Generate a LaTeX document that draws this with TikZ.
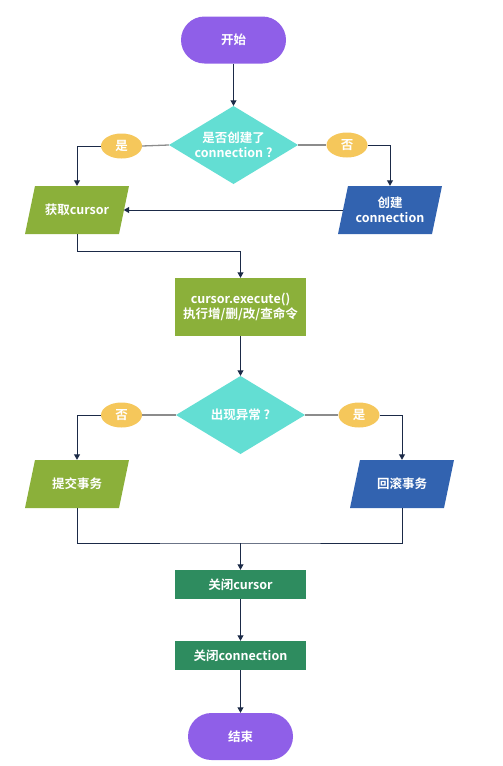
\documentclass[tikz,border=0pt]{standalone}
\usepackage{fontspec}
\setmainfont{Noto Sans CJK SC}[BoldFont={* Bold}]
\usetikzlibrary{arrows.meta,shapes.geometric}
\definecolor{cpurple}{HTML}{8F5FE8}
\definecolor{cteal}{HTML}{63DED3}
\definecolor{cgreen}{HTML}{8BB03A}
\definecolor{cblue}{HTML}{3263B0}
\definecolor{cdkgreen}{HTML}{2E8C5F}
\definecolor{cyellow}{HTML}{F5C75B}
\definecolor{cline}{HTML}{1B2A47}
\definecolor{cgrey}{HTML}{8C8C8C}
\tikzset{
  base/.style={text=white,font=\bfseries\fontsize{12.5}{15}\selectfont,inner sep=0pt,align=center},
  term/.style={base,rectangle,rounded corners=23.5pt,fill=cpurple,minimum width=105pt,minimum height=47pt},
  procbox/.style={base,rectangle,fill=#1,minimum width=131pt},
  decide/.style={base,rectangle,minimum width=129pt,minimum height=78pt,
    path picture={\fill[cteal] (path picture bounding box.west) -- (path picture bounding box.north) -- (path picture bounding box.east) -- (path picture bounding box.south) -- cycle;}},
  iobox/.style={base,rectangle,minimum width=104pt,minimum height=48pt,
    path picture={\fill[#1] ([xshift=10pt]path picture bounding box.north west) -- (path picture bounding box.north east) -- ([xshift=-10pt]path picture bounding box.south east) -- (path picture bounding box.south west) -- cycle;}},
  tag/.style={base,ellipse,fill=cyellow,minimum width=41pt,minimum height=25pt},
  arr/.style={draw=cline,line width=0.9pt,-{Triangle[width=6pt,length=5.5pt]}},
  plain/.style={draw=cline,line width=0.9pt},
  greyline/.style={draw=cgrey,line width=1.3pt},
}
\begin{document}
\begin{tikzpicture}[x=1pt,y=-1pt]
\useasboundingbox (0,0) rectangle (503,766);
\node[term] (start) at (233.5,40) {开始};
\node[decide] (d1) at (233.5,145) {是否创建了\\connection ?};
\node[tag] (yes1) at (121.5,146) {是};
\node[tag] (no1) at (347,145) {否};
\node[iobox=cgreen] (get) at (77,210) {获取cursor};
\node[iobox=cblue] (create) at (390,210) {创建\\connection};
\node[procbox=cgreen,minimum height=58pt] (exec) at (240.5,307) {cursor.execute()\\执行增/删/改/查命令};
\node[decide] (d2) at (240.5,415) {出现异常 ?};
\node[tag] (no2) at (121.5,415) {否};
\node[tag] (yes2) at (359,415) {是};
\node[iobox=cgreen] (commit) at (77,484) {提交事务};
\node[iobox=cblue] (rollback) at (402,484) {回滚事务};
\coordinate (merge) at (240.5,543);
\node[procbox=cdkgreen,minimum height=29pt] (close1) at (240.5,584.5) {关闭cursor};
\node[procbox=cdkgreen,minimum height=29pt] (close2) at (240.5,655.5) {关闭connection};
\node[term] (end) at (240.5,736.5) {结束};

\draw[arr] (start) -- (d1);
\draw[greyline] (d1.west) -- (yes1.east);
\draw[arr] (yes1.west) -| (get.north);
\draw[greyline] (d1.east) -- (no1.west);
\draw[arr] (no1.east) -| (create.north);
\draw[arr] ([xshift=5pt]create.west) -- ([xshift=-5.5pt]get.east);
\draw[arr] (get.south) -- ++(0,17) -| (exec.north);
\draw[arr] (exec) -- (d2);
\draw[greyline] (d2.west) -- (no2.east);
\draw[arr] (no2.west) -| (commit.north);
\draw[greyline] (d2.east) -- (yes2.west);
\draw[arr] (yes2.east) -| (rollback.north);
\draw[plain] (commit.south) |- (merge) -| (rollback.south);
\draw[arr] (merge) -- (close1);
\draw[arr] (close1) -- (close2);
\draw[arr] (close2) -- (end);
\end{tikzpicture}
\end{document}
